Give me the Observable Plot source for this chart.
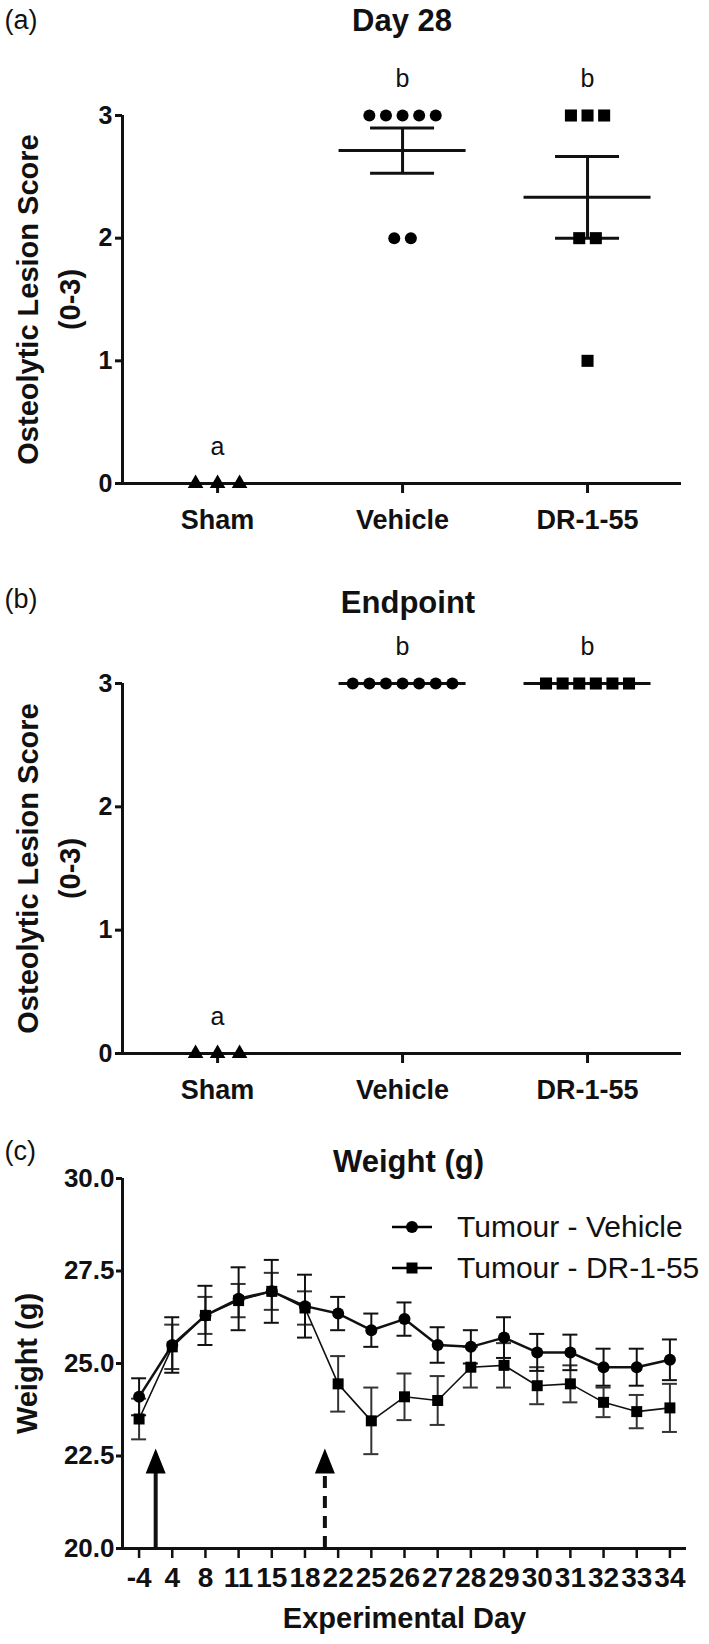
<!DOCTYPE html>
<html><head><meta charset="utf-8">
<script src="https://cdn.jsdelivr.net/npm/d3@7"></script>
<script src="https://cdn.jsdelivr.net/npm/@observablehq/plot@0.6"></script>
<style>
body{margin:0;background:#fff;}
#wrap{position:relative;width:709px;height:1644px;font-family:"Liberation Sans",Arial,Helvetica,sans-serif;background:#fff;}
.leg{position:absolute;left:392px;display:flex;align-items:center;height:40px;font-size:30px;color:#111;white-space:nowrap;}
.leg span{margin-left:25px;}
</style></head><body><div id="wrap"></div>
<script>
// ---------- data ----------
const groups = ["Sham", "Vehicle", "DR-1-55"];
const groupLetters = ["a", "b", "b"];
const day28Sham = [0, 0, 0];
const day28Vehicle = [3, 3, 3, 3, 3, 2, 2];
const day28DR = [3, 3, 3, 2, 2, 1];
const endSham = [0, 0, 0];
const endVehicle = [3, 3, 3, 3, 3, 3, 3];
const endDR = [3, 3, 3, 3, 3, 3];
const scoreTicks = [0, 1, 2, 3];

const days = [-4, 4, 8, 11, 15, 18, 22, 25, 26, 27, 28, 29, 30, 31, 32, 33, 34];
const vehMean = [24.1, 25.5, 26.3, 26.75, 26.95, 26.55, 26.35, 25.9, 26.2, 25.5, 25.45, 25.7, 25.3, 25.3, 24.9, 24.9, 25.1];
const vehSem  = [0.5, 0.75, 0.8, 0.85, 0.85, 0.85, 0.45, 0.45, 0.45, 0.48, 0.45, 0.55, 0.5, 0.48, 0.5, 0.5, 0.55];
const drMean  = [23.5, 25.45, 26.3, 26.7, 26.95, 26.5, 24.45, 23.45, 24.1, 24.0, 24.9, 24.95, 24.4, 24.45, 23.95, 23.7, 23.8];
const drSem   = [0.55, 0.6, 0.5, 0.45, 0.5, 0.45, 0.75, 0.9, 0.63, 0.66, 0.55, 0.6, 0.5, 0.5, 0.4, 0.45, 0.65];
const weightTicks = [20, 22.5, 25, 27.5, 30];
const seriesNames = ["Tumour - Vehicle", "Tumour - DR-1-55"];
const arrowIdx = [0.5, 5.6];      // arrow positions on the day axis (between days)
const arrowTip = 22.7;

// ---------- helpers ----------
const FONT = '"Liberation Sans", Arial, Helvetica, sans-serif';
const wrap = document.getElementById("wrap");
function place(svg, top) {
  svg.style.position = "absolute";
  svg.style.left = "0px";
  svg.style.top = top + "px";
  svg.style.overflow = "visible";
  wrap.appendChild(svg);
}

const xDomainS = [-0.514, 2.508];
const unitS = 559 / (xDomainS[1] - xDomainS[0]);

function scatterPanel(sets, o) {
  const pts = [];
  sets.forEach((vals, gi) => {
    const spacing = (gi === 0 ? 22 : 16.6) / unitS;
    const byVal = d3.group(vals, v => v);
    for (const [v, arr] of byVal) {
      arr.forEach((_, k) => pts.push({g: gi, v, x: gi + (k - (arr.length - 1) / 2) * spacing}));
    }
  });
  const stats = sets.map((vals, gi) => {
    const m = d3.mean(vals);
    const s = (d3.deviation(vals) || 0) / Math.sqrt(vals.length);
    return {g: gi, m, lo: m - s, hi: m + s, max: d3.max(vals), letter: groupLetters[gi]};
  });
  const sym = ["triangle", "circle", "square"];
  const rad = [5.8, 6, 6.8];
  const meanHalf = 63.5 / unitS, capHalf = 32 / unitS;
  return Plot.plot({
    width: 709, height: o.height,
    marginLeft: 122, marginRight: 28, marginTop: o.mt, marginBottom: o.mb,
    style: {fontFamily: FONT, background: "white", color: "#111"},
    x: {domain: xDomainS, axis: null},
    y: {domain: [0, 3], axis: null},
    marks: [
      Plot.ruleY([0], {strokeWidth: 3}),
      Plot.ruleX([xDomainS[0]], {strokeWidth: 3}),
      Plot.axisY({ticks: scoreTicks, tickFormat: d3.format("d"), tickSize: 7, tickPadding: 3, fontSize: 25, fontWeight: "bold", strokeWidth: 3, label: null}),
      Plot.axisX({ticks: [0, 1, 2], tickFormat: i => groups[i], tickSize: 10, tickPadding: 16, fontSize: 27, fontWeight: "bold", strokeWidth: 3, label: null}),
      Plot.ruleY(stats, {y: "m", x1: d => d.g - meanHalf, x2: d => d.g + meanHalf, strokeWidth: 3}),
      Plot.ruleY(stats, {y: "hi", x1: d => d.g - capHalf, x2: d => d.g + capHalf, strokeWidth: 3}),
      Plot.ruleY(stats, {y: "lo", x1: d => d.g - capHalf, x2: d => d.g + capHalf, strokeWidth: 3}),
      Plot.ruleX(stats, {x: "g", y1: "lo", y2: "hi", strokeWidth: 3}),
      ...[0, 1, 2].map(gi => Plot.dot(pts.filter(p => p.g === gi), {x: "x", y: "v", symbol: sym[gi], r: rad[gi], fill: "black", stroke: "none"})),
      Plot.text(stats, {x: "g", y: "max", text: "letter", dy: -37, fontSize: 25, lineAnchor: "middle"}),
      Plot.text([o.title], {frameAnchor: "top", dx: o.titleDx, dy: o.titleDy, fontSize: 31, fontWeight: "bold", lineAnchor: "middle"}),
      Plot.text([o.tag], {frameAnchor: "top-left", dx: -118, dy: o.tagDy, fontSize: 27, textAnchor: "start", lineAnchor: "middle"}),
      Plot.text(["Osteolytic Lesion Score"], {frameAnchor: "left", dx: -94, rotate: -90, textAnchor: "middle", fontSize: 29, fontWeight: "bold", lineAnchor: "middle"}),
      Plot.text(["(0-3)"], {frameAnchor: "left", dx: -52, rotate: -90, textAnchor: "middle", fontSize: 29, fontWeight: "bold", lineAnchor: "middle"})
    ]
  });
}

// ---------- panel (a) ----------
place(scatterPanel([day28Sham, day28Vehicle, day28DR],
  {height: 545, mt: 115, mb: 62, title: "Day 28", titleDx: 0, titleDy: -94, tag: "(a)", tagDy: -95}), 0);

// ---------- panel (b) ----------
place(scatterPanel([endSham, endVehicle, endDR],
  {height: 555, mt: 138, mb: 47, title: "Endpoint", titleDx: 6, titleDy: -80, tag: "(b)", tagDy: -84}), 545);

// ---------- panel (c) ----------
const veh = days.map((d, i) => ({i, m: vehMean[i], lo: vehMean[i] - vehSem[i], hi: vehMean[i] + vehSem[i]}));
const dr = days.map((d, i) => ({i, m: drMean[i], lo: drMean[i] - drSem[i], hi: drMean[i] + drSem[i]}));
const arrows = arrowIdx.map((x, k) => ({x, k}));
const capC = 7.5 / (564 / 17);
const arrowHead = {
  draw(context, size) {
    const r = Math.sqrt(size / Math.PI);
    context.moveTo(0, 0);
    context.lineTo(r, 2.5 * r);
    context.lineTo(-r, 2.5 * r);
    context.closePath();
  }
};
const errMarks = (s, color) => [
  Plot.ruleX(s, {x: "i", y1: "lo", y2: "hi", strokeWidth: 2, stroke: color}),
  Plot.ruleY(s, {y: "hi", x1: d => d.i - capC, x2: d => d.i + capC, strokeWidth: 2, stroke: color}),
  Plot.ruleY(s, {y: "lo", x1: d => d.i - capC, x2: d => d.i + capC, strokeWidth: 2, stroke: color})
];
const plotC = Plot.plot({
  width: 709, height: 544,
  marginLeft: 122, marginRight: 23, marginTop: 78, marginBottom: 96,
  style: {fontFamily: FONT, background: "white", color: "#111"},
  x: {domain: [-0.5, 16.5], axis: null},
  y: {domain: [20, 30], axis: null},
  marks: [
    Plot.ruleY([20], {strokeWidth: 3}),
    Plot.ruleX([-0.5], {strokeWidth: 3}),
    Plot.axisY({ticks: weightTicks, tickFormat: d3.format(".1f"), tickSize: 6, tickPadding: 2, fontSize: 26, fontWeight: "bold", strokeWidth: 3, label: null}),
    Plot.axisX({ticks: d3.range(days.length), tickFormat: i => String(days[i]), tickSize: 10, tickPadding: 9, fontSize: 28, fontWeight: "bold", strokeWidth: 2.5, label: null}),
    ...errMarks(dr, "#333"),
    ...errMarks(veh, "#111"),
    Plot.line(dr, {x: "i", y: "m", strokeWidth: 1.6, stroke: "#111"}),
    Plot.line(veh, {x: "i", y: "m", strokeWidth: 2.5, stroke: "#111"}),
    Plot.dot(dr, {x: "i", y: "m", symbol: "square", r: 6.2, fill: "black", stroke: "none"}),
    Plot.dot(veh, {x: "i", y: "m", symbol: "circle", r: 6, fill: "black", stroke: "none"}),
    Plot.ruleX(arrows.filter(a => a.k === 0), {x: "x", y1: 20, y2: arrowTip - 0.6, strokeWidth: 4}),
    Plot.ruleX(arrows.filter(a => a.k === 1), {x: "x", y1: 20, y2: arrowTip - 0.6, strokeWidth: 4, strokeDasharray: "12,8"}),
    Plot.dot(arrows, {x: "x", y: arrowTip, symbol: arrowHead, r: 10, fill: "black", stroke: "none"}),
    Plot.text(["Weight (g)"], {frameAnchor: "top", dx: 4, dy: -16, fontSize: 31, fontWeight: "bold", lineAnchor: "middle"}),
    Plot.text(["(c)"], {frameAnchor: "top-left", dx: -118, dy: -27, fontSize: 27, textAnchor: "start", lineAnchor: "middle"}),
    Plot.text(["Weight (g)"], {frameAnchor: "left", dx: -95, rotate: -90, textAnchor: "middle", fontSize: 29, fontWeight: "bold", lineAnchor: "middle"}),
    Plot.text(["Experimental Day"], {frameAnchor: "bottom", dy: 70, fontSize: 29, fontWeight: "bold", lineAnchor: "middle"})
  ]
});
place(plotC, 1100);

// ---------- legend for (c) ----------
const legendSymbols = [
  '<circle cx="20" cy="10" r="6" fill="black"/>',
  '<rect x="14.5" y="4.5" width="11" height="11" fill="black"/>'
];
seriesNames.forEach((name, k) => {
  const row = document.createElement("div");
  row.className = "leg";
  row.style.top = (1207 + k * 41) + "px";
  row.innerHTML = '<svg width="40" height="20"><line x1="0" x2="40" y1="10" y2="10" stroke="black" stroke-width="2.5"/>' +
    legendSymbols[k] + '</svg><span>' + name + '</span>';
  wrap.appendChild(row);
});
</script>
</body></html>
